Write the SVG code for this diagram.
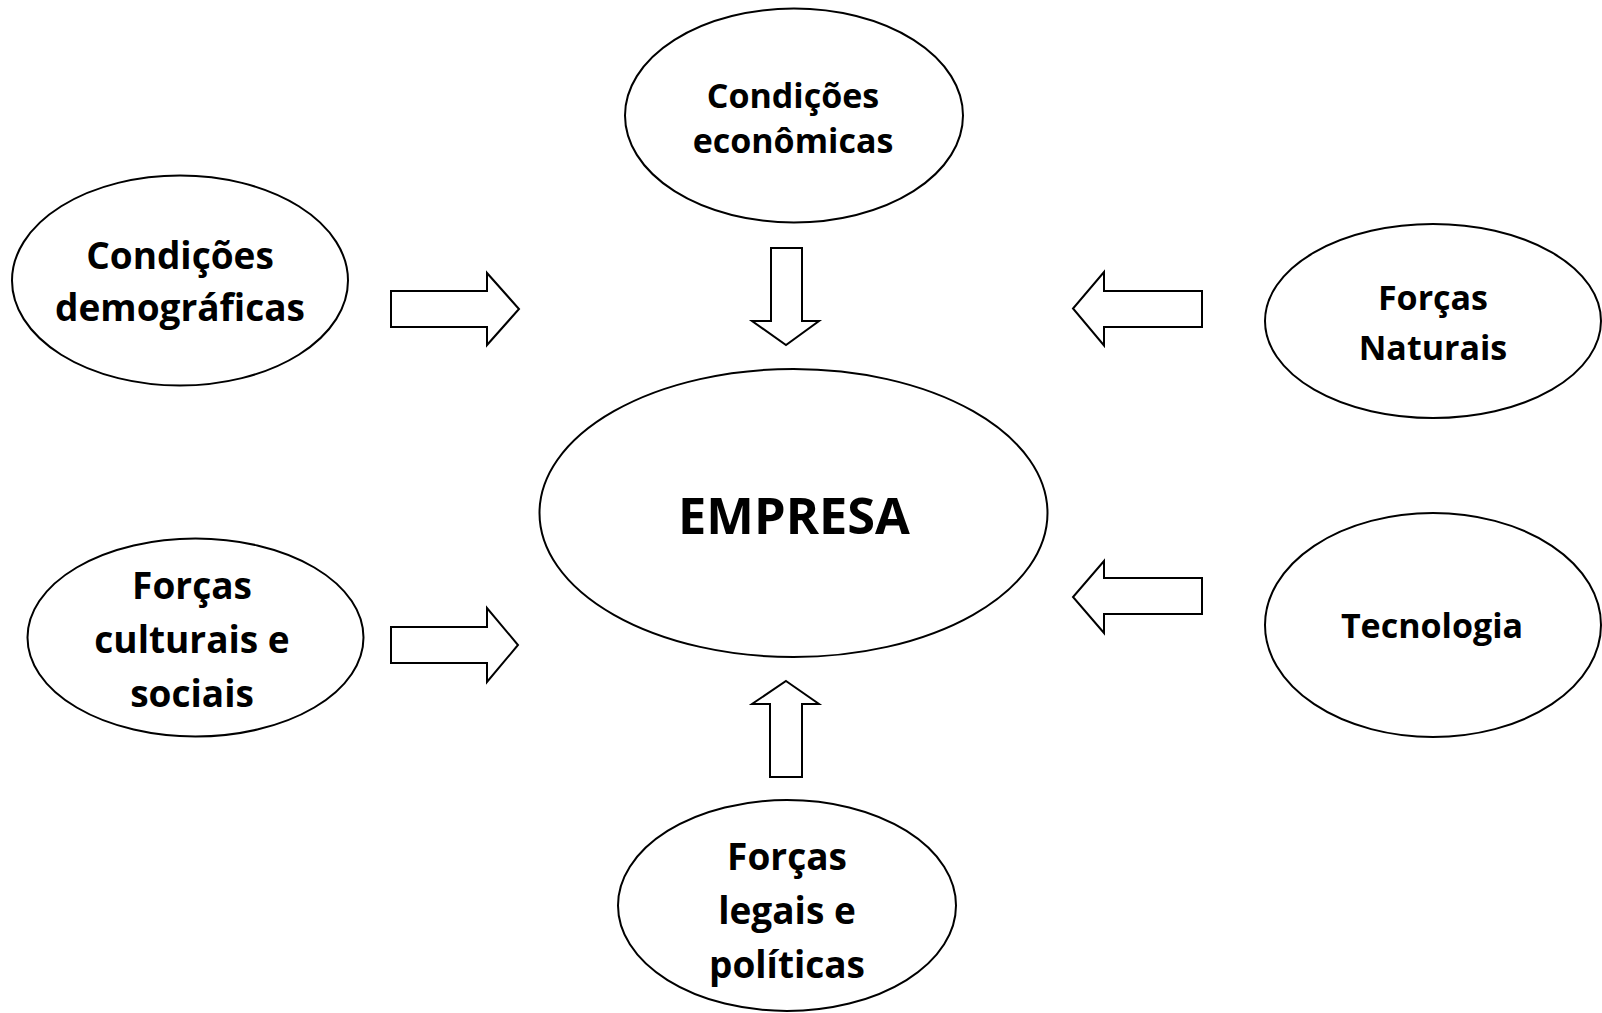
<svg xmlns="http://www.w3.org/2000/svg" width="1602" height="1013" viewBox="0 0 1602 1013">
<style>
  .node { fill: #ffffff; stroke: #000000; stroke-width: 2; }
  .arrow { fill: #ffffff; stroke: #000000; stroke-width: 2; stroke-linejoin: miter; }
  text { font-family: "Open Sans", "Noto Sans", "Liberation Sans", sans-serif; font-weight: 700; fill: #000000; text-anchor: middle; }
  .t37 { font-size: 37px; }
  .t34 { font-size: 34px; }
  .t50 { font-size: 50.5px; }
</style>
<rect width="1602" height="1013" fill="#ffffff"/>
<g id="connectors">
  <polygon class="arrow" points="391,291 487,291 487,273 519,309 487,345 487,327 391,327"/>
  <polygon class="arrow" points="391,627 487,627 487,608 518,645 487,682 487,663 391,663"/>
  <polygon class="arrow" points="1202,291 1104,291 1104,272 1073,308.5 1104,345.5 1104,327 1202,327"/>
  <polygon class="arrow" points="1202,578 1104,578 1104,561 1073,597 1104,633 1104,614 1202,614"/>
  <polygon class="arrow" points="771,248 802,248 802,321 819,321 786,345 752,321 771,321"/>
  <polygon class="arrow" points="786,681 819,704 802,704 802,777 770,777 770,704 752,704"/>
</g>
<g id="node-economicas">
  <ellipse class="node" cx="794" cy="115.5" rx="169" ry="107"/>
  <text class="t34" x="793" y="108">Condições</text>
  <text class="t34" x="793" y="153">econômicas</text>
</g>
<g id="node-demograficas">
  <ellipse class="node" cx="180" cy="280.5" rx="168" ry="105"/>
  <text class="t37" x="180" y="269">Condições</text>
  <text class="t37" x="180" y="321">demográficas</text>
</g>
<g id="node-naturais">
  <ellipse class="node" cx="1433" cy="321" rx="168" ry="97"/>
  <text class="t34" x="1433" y="310">Forças</text>
  <text class="t34" x="1433" y="360">Naturais</text>
</g>
<g id="node-empresa">
  <ellipse class="node" cx="793.5" cy="513" rx="254" ry="144"/>
  <text class="t50" x="794" y="534">EMPRESA</text>
</g>
<g id="node-culturais">
  <ellipse class="node" cx="195.5" cy="637.5" rx="168" ry="99"/>
  <text class="t37" x="192" y="599">Forças</text>
  <text class="t37" x="192" y="653">culturais e</text>
  <text class="t37" x="192" y="707">sociais</text>
</g>
<g id="node-tecnologia">
  <ellipse class="node" cx="1433" cy="625" rx="168" ry="112"/>
  <text class="t34" x="1432" y="638">Tecnologia</text>
</g>
<g id="node-legais">
  <ellipse class="node" cx="787" cy="905.5" rx="169" ry="105.5"/>
  <text class="t37" x="787" y="870">Forças</text>
  <text class="t37" x="787" y="924">legais e</text>
  <text class="t37" x="787" y="978">políticas</text>
</g>
</svg>
